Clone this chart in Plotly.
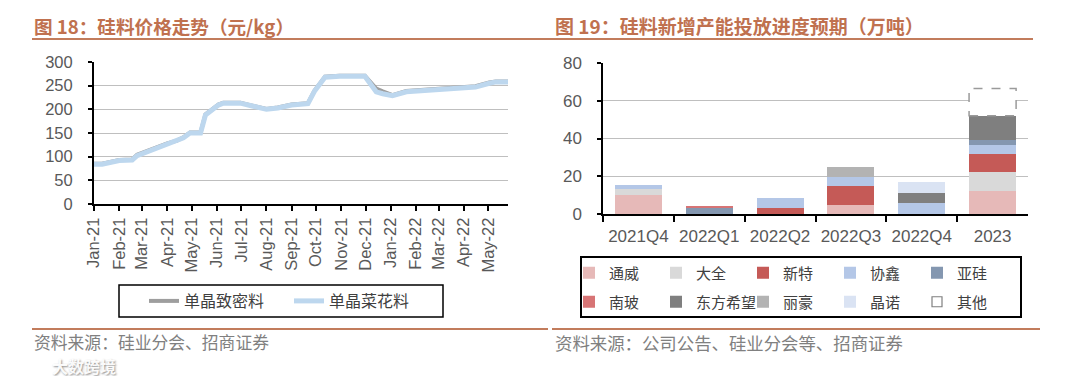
import plotly.graph_objects as go

# ---------------- Left chart: polysilicon prices (yuan/kg) ----------------
price_dates = ["2021-01-01", "2021-01-11", "2021-02-01", "2021-02-17", "2021-02-23",
               "2021-03-01", "2021-03-15", "2021-04-01", "2021-04-13", "2021-04-21",
               "2021-04-29", "2021-05-12", "2021-05-18", "2021-05-26", "2021-06-03",
               "2021-06-09", "2021-06-30", "2021-07-12", "2021-08-01", "2021-08-15",
               "2021-09-01", "2021-09-21", "2021-09-29", "2021-10-12", "2021-10-30",
               "2021-11-30", "2021-12-14", "2021-12-22", "2022-01-03", "2022-01-20",
               "2022-02-17", "2022-03-05", "2022-03-30", "2022-04-15", "2022-05-02",
               "2022-05-10", "2022-05-25"]
dense_price = [85, 85, 93, 94, 104, 108, 117, 128, 134, 141,
               151, 151, 189, 200, 210, 214, 214, 209, 201, 204,
               210, 213, 239, 269, 271, 271, 244, 238, 230, 239,
               242, 245, 248, 249, 257, 259, 259]
cauliflower_price = [84, 84, 92, 93, 102, 106, 116, 127, 133, 140,
                     150, 150, 188, 199, 209, 213, 213, 208, 200, 203,
                     209, 212, 238, 268, 270, 270, 237, 233, 229, 237,
                     240, 243, 245, 247, 255, 258, 258]
month_tick_dates = ["2021-01-01", "2021-02-01", "2021-03-01", "2021-04-01", "2021-05-01",
                    "2021-06-01", "2021-07-01", "2021-08-01", "2021-09-01", "2021-10-01",
                    "2021-11-01", "2021-12-01", "2022-01-01", "2022-02-01", "2022-03-01",
                    "2022-04-01", "2022-05-01"]
month_tick_labels = ["Jan-21", "Feb-21", "Mar-21", "Apr-21", "May-21", "Jun-21", "Jul-21",
                     "Aug-21", "Sep-21", "Oct-21", "Nov-21", "Dec-21", "Jan-22", "Feb-22",
                     "Mar-22", "Apr-22", "May-22"]
line_names = ["单晶致密料", "单晶菜花料"]

# ---------------- Right chart: new capacity schedule (10k t) ----------------
periods = ["2021Q4", "2022Q1", "2022Q2", "2022Q3", "2022Q4", "2023"]
tongwei = [10, 0, 0, 5, 0, 12]
daqo = [3.5, 0, 0, 0, 0, 10]
xinte = [0, 0, 3, 10, 0, 10]
gcl = [2, 0, 5.3, 4.5, 5.7, 4.5]
yagui = [0, 3, 0, 0, 0, 2.5]
nanbo = [0, 1.3, 0, 0, 0, 0]
east_hope = [0, 0, 0, 0, 5.6, 13]
lihao = [0, 0, 0, 5.5, 0, 0]
jingnuo = [0, 0, 0, 0, 5.5, 0]
others = [0, 0, 0, 0, 0, 14.5]

series_names = ["通威", "大全", "新特", "协鑫", "亚硅", "南玻", "东方希望", "丽豪", "晶诺", "其他"]
series_values = [tongwei, daqo, xinte, gcl, yagui, nanbo, east_hope, lihao, jingnuo, others]
series_colors = ["#E6B9B8", "#D9D9D9", "#C55A57", "#B4C7E7", "#8497B0",
                 "#D77475", "#7F7F7F", "#B3B3B3", "#DAE3F3", "#FFFFFF"]

titles = ["图 18：硅料价格走势（元/kg）", "图 19：硅料新增产能投放进度预期（万吨）"]
sources = ["资料来源：硅业分会、招商证券", "资料来源：公司公告、硅业分会等、招商证券"]

# figure is rendered with an 8px page offset; target positions are screen pixels
W, H = 1080, 376
OX, OY = 8, 8
def fx(px):
    return (px - OX) / W
def fy(py):
    return 1 - (py - OY) / H

CJK = "Noto Sans CJK SC"
LAT = "Liberation Sans, Arial, sans-serif"
TICK_COLOR = "#595959"
ACCENT = "#C0714F"

fig = go.Figure()

# lines
fig.add_trace(go.Scatter(x=price_dates, y=dense_price, mode="lines", name=line_names[0],
                         line=dict(color="#9E9E9E", width=4),
                         xaxis="x", yaxis="y", legend="legend"))
fig.add_trace(go.Scatter(x=price_dates, y=cauliflower_price, mode="lines", name=line_names[1],
                         line=dict(color="#BDD7EE", width=5),
                         xaxis="x", yaxis="y", legend="legend"))

# stacked bars
for i, (nm, vals, col) in enumerate(zip(series_names, series_values, series_colors)):
    is_other = (nm == "其他")
    fig.add_trace(go.Bar(x=periods, y=vals, name=nm,
                         marker=dict(color=col, line=dict(width=0)),
                         xaxis="x2", yaxis="y2",
                         legend="legend2" if i < 5 else "legend3",
                         showlegend=not is_other))
# legend entry for "其他" (open square)
fig.add_trace(go.Scatter(x=[None], y=[None], mode="markers", name="其他",
                         marker=dict(symbol="square-open", size=10, color="#7F7F7F",
                                     line=dict(width=1.2)),
                         xaxis="x2", yaxis="y2", legend="legend3"))

BARGAP = 0.336
bar_w = 1 - BARGAP
shapes = []
# dashed outline of "其他" segments, placed via data coordinates
for i, v in enumerate(others):
    if v > 0:
        base = sum(s[i] for s in series_values[:-1])
        shapes.append(dict(type="rect", xref="x2", yref="y2",
                           x0=i - bar_w / 2, x1=i + bar_w / 2, y0=base, y1=base + v,
                           line=dict(color="#9A9A9A", width=1.5, dash="dash"),
                           fillcolor="rgba(0,0,0,0)", layer="above"))

# decorative rules and legend frames
rule = "#C27C5C"
shapes += [
    dict(type="line", xref="paper", yref="paper", x0=fx(32), x1=fx(548), y0=fy(39), y1=fy(39),
         line=dict(color=rule, width=2)),
    dict(type="line", xref="paper", yref="paper", x0=fx(548), x1=fx(1033), y0=fy(39), y1=fy(39),
         line=dict(color=rule, width=2)),
    dict(type="line", xref="paper", yref="paper", x0=fx(32), x1=fx(548), y0=fy(329), y1=fy(329),
         line=dict(color=rule, width=2)),
    dict(type="line", xref="paper", yref="paper", x0=fx(552), x1=fx(1040), y0=fy(329), y1=fy(329),
         line=dict(color=rule, width=2)),
    dict(type="rect", xref="paper", yref="paper", x0=fx(119), x1=fx(443), y0=fy(317), y1=fy(285),
         line=dict(color="black", width=1.5), fillcolor="rgba(0,0,0,0)"),
    dict(type="rect", xref="paper", yref="paper", x0=fx(581), x1=fx(1021), y0=fy(317), y1=fy(257),
         line=dict(color="black", width=2), fillcolor="rgba(0,0,0,0)"),
]

annotations = [
    dict(text=titles[0], xref="paper", yref="paper", x=fx(32), y=fy(26), xanchor="left",
         yanchor="middle", showarrow=False,
         font=dict(family=CJK, size=18.6, color=ACCENT, weight="bold")),
    dict(text=titles[1], xref="paper", yref="paper", x=fx(553), y=fy(26), xanchor="left",
         yanchor="middle", showarrow=False,
         font=dict(family=CJK, size=19, color=ACCENT, weight="bold")),
    dict(text=sources[0], xref="paper", yref="paper", x=fx(32), y=fy(342), xanchor="left",
         yanchor="middle", showarrow=False, font=dict(family=CJK, size=16.8, color="#808080")),
    dict(text=sources[1], xref="paper", yref="paper", x=fx(553), y=fy(342), xanchor="left",
         yanchor="middle", showarrow=False, font=dict(family=CJK, size=17.4, color="#808080")),
    dict(text="大数跨境", xref="paper", yref="paper", x=fx(50), y=fy(366), xanchor="left",
         yanchor="middle", showarrow=False,
         font=dict(family=CJK, size=16, color="rgba(255,255,255,0.95)",
                   shadow="1px 1px 2px #8a8a8a", weight="bold")),
]

tickfont = dict(family=LAT, size=16.5, color=TICK_COLOR)
legfont = dict(family=CJK, size=16, color="#404040")
legfont_r = dict(family=CJK, size=15, color="#404040")

fig.update_layout(
    width=W, height=H,
    margin=dict(l=0, r=0, t=0, b=0, autoexpand=False),
    paper_bgcolor="white", plot_bgcolor="white",
    barmode="stack", bargap=BARGAP,
    xaxis=dict(domain=[fx(94), fx(508)], anchor="y", type="date",
               range=["2021-01-01", "2022-05-25"],
               tickvals=month_tick_dates, ticktext=month_tick_labels, tickangle=-90,
               ticks="outside", ticklen=5, tickcolor="black", tickwidth=1.5,
               showline=True, linecolor="black", linewidth=2, showgrid=False,
               tickfont=tickfont, automargin=False),
    yaxis=dict(domain=[fy(204), fy(62)], anchor="x", range=[0, 300], dtick=50,
               ticks="outside", ticklen=4, tickcolor="black", tickwidth=1.5,
               showline=True, linecolor="black", linewidth=2,
               showgrid=True, gridcolor="#BFBFBF", gridwidth=1, zeroline=False,
               tickfont=tickfont, ticklabelstandoff=12, automargin=False),
    xaxis2=dict(domain=[fx(603), fx(1028)], anchor="y2", type="category",
                range=[-0.5, 5.5], tickson="boundaries", tickangle=0,
                ticks="outside", ticklen=6, tickcolor="black", tickwidth=1.5,
                showline=True, linecolor="black", linewidth=1.5, showgrid=False,
                tickfont=dict(family=LAT, size=17, color=TICK_COLOR), ticklabelstandoff=6,
                automargin=False),
    yaxis2=dict(domain=[fy(214), fy(63)], anchor="x2", range=[0, 80], dtick=20,
                ticks="outside", ticklen=4, tickcolor="black", tickwidth=1.5,
                showline=True, linecolor="black", linewidth=1.5,
                showgrid=True, gridcolor="#BFBFBF", gridwidth=1, zeroline=False,
                tickfont=dict(family=LAT, size=17, color=TICK_COLOR), ticklabelstandoff=12,
                automargin=False),
    legend=dict(orientation="h", x=fx(144), y=fy(301), xanchor="left", yanchor="middle",
                font=legfont, entrywidth=100, entrywidthmode="pixels",
                bgcolor="rgba(0,0,0,0)", borderwidth=0, traceorder="normal"),
    legend2=dict(orientation="h", x=fx(569), y=fy(273), xanchor="left", yanchor="middle",
                 font=legfont_r, entrywidth=42, entrywidthmode="pixels",
                 bgcolor="rgba(0,0,0,0)", borderwidth=0, traceorder="normal"),
    legend3=dict(orientation="h", x=fx(569), y=fy(302), xanchor="left", yanchor="middle",
                 font=legfont_r, entrywidth=42, entrywidthmode="pixels",
                 bgcolor="rgba(0,0,0,0)", borderwidth=0, traceorder="normal"),
    shapes=shapes,
    annotations=annotations,
    showlegend=True,
)

fig.write_html("out.html")
